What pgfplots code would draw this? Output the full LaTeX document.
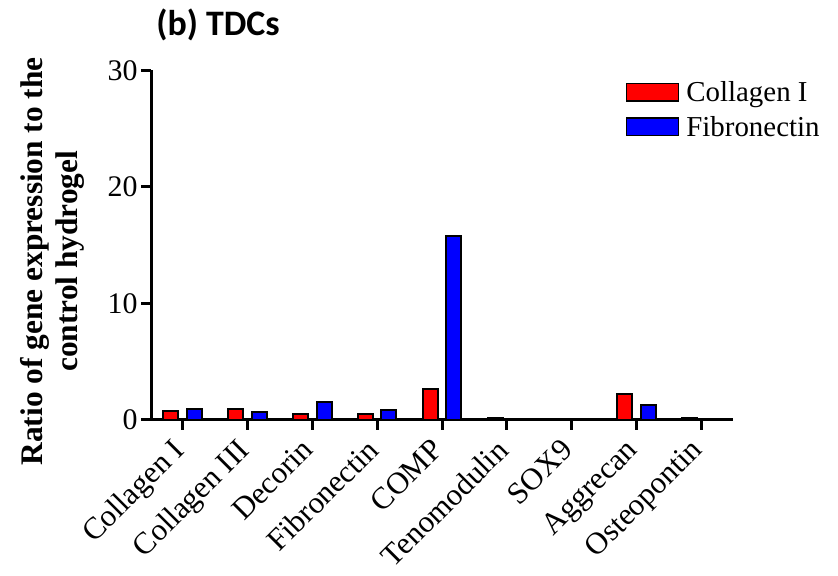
\documentclass[border=0pt]{standalone}
\usepackage{fontspec}
\setmainfont{Liberation Serif}
\newfontfamily\titlefont{Carlito}
\usepackage{pgfplots}
\pgfplotsset{compat=1.18}
\begin{document}
\begin{tikzpicture}[x=1bp,y=1bp]
\useasboundingbox (0,0) rectangle (838,576);
\begin{axis}[
  at={(151bp,156bp)}, anchor=south west,
  scale only axis, width=582bp, height=349.5bp,
  xmin=-0.49, xmax=8.49, ymin=0, ymax=30,
  axis lines*=left,
  axis line style={line width=3bp},
  ytick={0,10,20,30},
  xtick={0,...,8},
  xticklabels={Collagen I,Collagen III,Decorin,Fibronectin,COMP,Tenomodulin,SOX9,Aggrecan,Osteopontin},
  tick align=outside, major tick length=10bp,
  every tick/.style={line width=3bp, black},
  /pgf/number format/assume math mode=true,
  xticklabel shift=4bp,
  x tick label style={rotate=45, anchor=north east, xshift=-8.5bp, yshift=8.5bp, font=\fontsize{31}{31}\selectfont, inner sep=2bp},
  y tick label style={font=\fontsize{30}{30}\selectfont},
  ylabel={Ratio of gene expression to the\\control hydrogel},
  ylabel style={at={(axis description cs:-0.17,0.454)}, anchor=center, align=center, font=\bfseries\fontsize{31.5}{35}\selectfont},
  ybar, bar width=15bp,
  legend style={at={(axis description cs:0.81,0.98)}, anchor=north west, draw=none, fill=none, font=\fontsize{29}{29}\selectfont, row sep=9bp},
  legend image code/.code={\draw[#1, line width=1.5bp] (0bp,-8.5bp) rectangle (52bp,9bp); \path (57bp,0bp);},
  legend cell align=left,
]
\addplot[fill={rgb,255:red,255;green,0;blue,0}, draw=black, line width=2bp, bar shift=-11.8bp] coordinates {
(0,0.77) (1,0.94) (2,0.49) (3,0.49) (4,2.66) (5,0.15) (6,0.05) (7,2.26) (8,0.15)};
\addplot[fill={rgb,255:red,0;green,0;blue,255}, draw=black, line width=2bp, bar shift=11.8bp] coordinates {
(0,0.94) (1,0.66) (2,1.55) (3,0.83) (4,15.8) (5,0.05) (6,0.05) (7,1.26) (8,0.05)};
\legend{Collagen I,Fibronectin}
\end{axis}
\node[font=\titlefont\bfseries\fontsize{36}{36}\selectfont] at (218,551) {(b) TDCs};
\end{tikzpicture}
\end{document}
